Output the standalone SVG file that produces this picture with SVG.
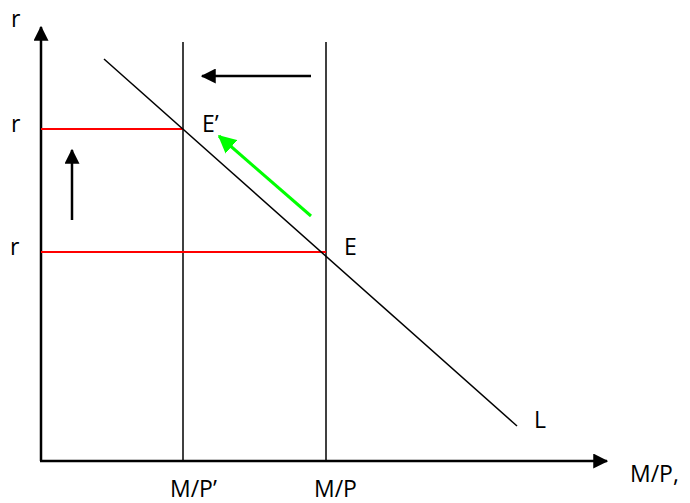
<svg xmlns="http://www.w3.org/2000/svg" width="690" height="503" viewBox="0 0 690 503">
<defs>
<style>
.ax{stroke:#000;stroke-width:2.5;fill:none}
.ln{stroke:#000;stroke-width:1.5;fill:none}
.red{stroke:#ff0000;stroke-width:2;fill:none}
.arr{stroke:#000;stroke-width:2.5;fill:none}
.grn{stroke:#00ff00;stroke-width:3;fill:none}
text{font-family:"Open Sans","Liberation Sans",sans-serif;font-size:23px;fill:#000}
</style>
<marker id="ah" markerWidth="6" markerHeight="6" refX="5.5" refY="3" orient="auto" markerUnits="strokeWidth"><path d="M0,0 L6,3 L0,6 Z" fill="#000"/></marker>
<marker id="ahg" markerWidth="6" markerHeight="6" refX="5.5" refY="3" orient="auto" markerUnits="strokeWidth"><path d="M0,0 L6,3 L0,6 Z" fill="#00ff00"/></marker>
</defs>
<g id="axes">
<line class="ax" x1="41" y1="461" x2="41" y2="27" marker-end="url(#ah)"/>
<line class="ax" x1="40" y1="461" x2="607" y2="461" marker-end="url(#ah)"/>
</g>
<g id="connectors">
<line class="ln" x1="183" y1="42" x2="183" y2="461"/>
<line class="ln" x1="326" y1="42" x2="326" y2="461"/>
<line class="red" x1="41" y1="129" x2="183" y2="129"/>
<line class="red" x1="41" y1="252" x2="326" y2="252"/>
<line class="ln" x1="104" y1="59" x2="517" y2="426"/>
<line class="arr" x1="311" y1="76" x2="202" y2="76" marker-end="url(#ah)"/>
<line class="arr" x1="72" y1="220" x2="72" y2="150" marker-end="url(#ah)"/>
<line class="grn" x1="311" y1="216" x2="219" y2="136" marker-end="url(#ahg)"/>
</g>
<g id="labels">
<text x="11" y="27">r</text>
<text x="11" y="132">r</text>
<text x="10" y="255">r</text>
<text x="202" y="132">E’</text>
<text x="344" y="255">E</text>
<text x="534" y="428">L</text>
<text x="170" y="497">M/P’</text>
<text x="314" y="497">M/P</text>
<text x="630" y="482">M/P,</text>
</g>
</svg>
